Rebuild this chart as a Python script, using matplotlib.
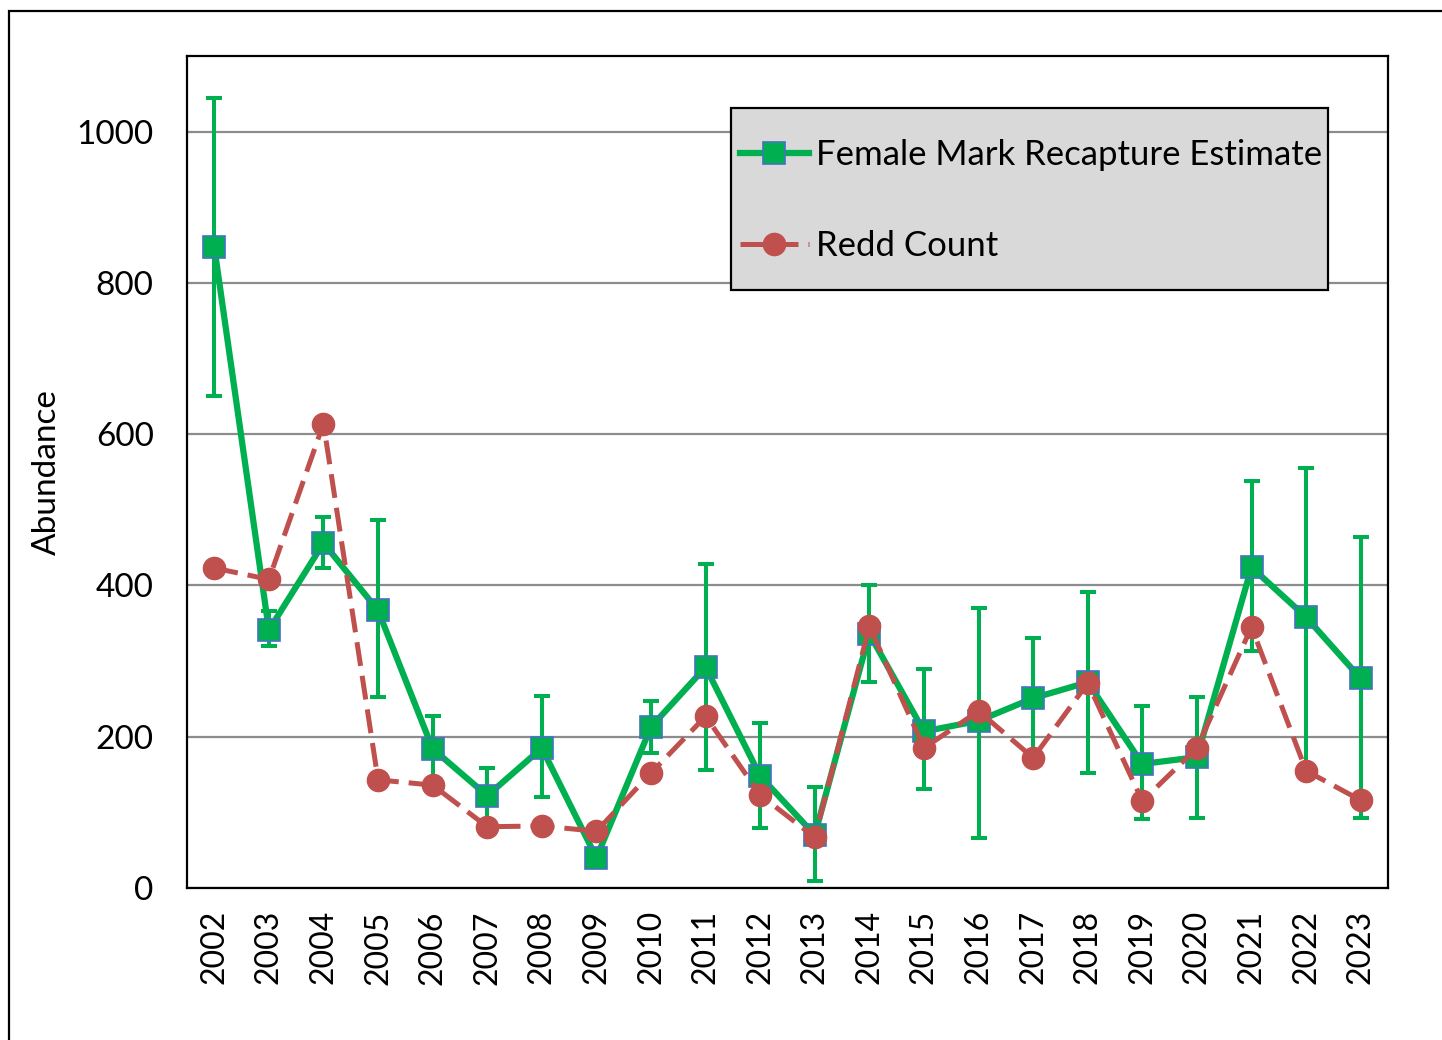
import matplotlib
matplotlib.use('Agg')
import matplotlib.pyplot as plt
from matplotlib.patches import Rectangle
import numpy as np

years = [str(y) for y in range(2002, 2024)]

# female mark-recapture estimate and its confidence bounds
female_est = [847, 341, 456, 367, 184, 122, 185, 40, 213, 292, 148, 70,
              336, 207, 221, 251, 272, 164, 173, 424, 358, 277]
female_low = [651, 320, 423, 252, 140, 90, 120, 30, 178, 156, 79, 9,
              273, 131, 66, 180, 152, 91, 93, 313, 156, 93]
female_high = [1045, 366, 491, 487, 228, 158, 254, 50, 247, 428, 218, 133,
               400, 289, 370, 330, 392, 240, 252, 538, 555, 464]

redd_count = [423, 408, 614, 143, 136, 81, 82, 75, 152, 227, 123, 67,
              346, 185, 234, 172, 271, 115, 185, 345, 155, 116]

plt.rcParams['font.family'] = ['Lato', 'DejaVu Sans']

fig = plt.figure(figsize=(14.42, 10.40), dpi=100)
ax = fig.add_axes([187/1442, 1 - 888/1040, (1388-187)/1442, (888-56)/1040])

x = np.arange(len(years))
est = np.array(female_est)
yerr = [est - np.array(female_low), np.array(female_high) - est]

green = '#00B050'
red = '#C0504D'

ax.errorbar(x, est, yerr=yerr, fmt='none', ecolor=green, elinewidth=2.9,
            capsize=6, capthick=2.9, zorder=3)
ax.plot(x, est, color=green, linewidth=4.5, marker='s', markersize=16,
        markerfacecolor=green, markeredgecolor='#4472C4', markeredgewidth=1.2,
        label='Female Mark Recapture Estimate', zorder=4)
ax.plot(x, redd_count, color=red, linewidth=3.6, linestyle=(0, (4.8, 2.0)),
        marker='o', markersize=16, markerfacecolor=red, markeredgecolor=red,
        label='Redd Count', zorder=5)

ax.set_xlim(-0.5, len(years) - 0.5)
ax.set_ylim(0, 1100)
ax.set_yticks([0, 200, 400, 600, 800, 1000])
ax.set_xticks(x)
ax.set_xticklabels(years, rotation=90)
ax.tick_params(axis='x', length=0, pad=16, labelsize=23)
ax.tick_params(axis='y', length=0, pad=24, labelsize=24)
ax.yaxis.grid(True, color='#8C8C8C', linewidth=1.6)
ax.set_axisbelow(True)
for s in ax.spines.values():
    s.set_color('black')
    s.set_linewidth(1.6)

ax.set_ylabel('Abundance', fontsize=24)
ax.yaxis.set_label_coords(-0.104, 0.5)

# legend box drawn by hand so the padding can differ from the frame size
bx0, by0 = (731-187)/1201, (888-290)/832
ax.add_patch(Rectangle((bx0, by0), (1328-731)/1201, 182/832,
                       transform=ax.transAxes, facecolor='#D9D9D9',
                       edgecolor='black', linewidth=1.6, zorder=6))
leg = ax.legend(loc='upper left', bbox_to_anchor=(bx0, (888-130)/832),
                fontsize=25, frameon=False, labelspacing=1.7,
                borderpad=0.0, handlelength=2.0, handletextpad=0.2,
                borderaxespad=0.25)
leg.set_zorder(7)

# outer chart frame
fig.patches.append(Rectangle((9/1442, -0.1), 1.2, 1 - 11/1040 + 0.1,
                             transform=fig.transFigure, fill=False,
                             edgecolor='black', linewidth=1.6))

fig.savefig('out.png', dpi=100)
